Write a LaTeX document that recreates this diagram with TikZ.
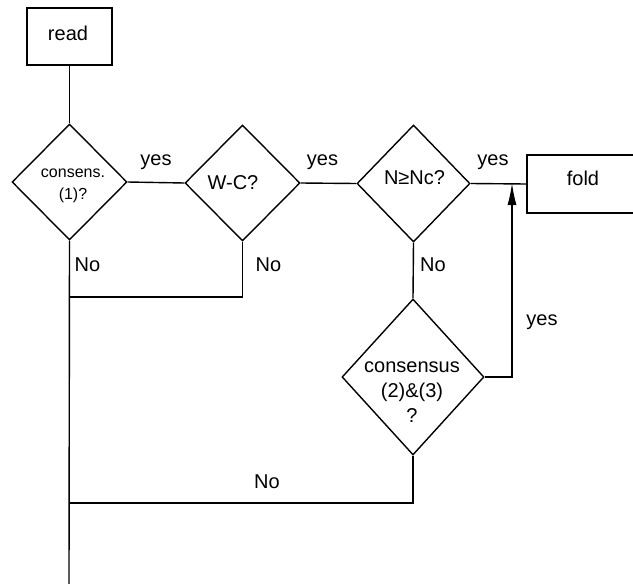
\documentclass[tikz,border=0pt]{standalone}
\usepackage{fontspec}
\setmainfont{Liberation Sans}
\usetikzlibrary{shapes.geometric,arrows.meta}

\begin{document}
\begin{tikzpicture}[x=1pt,y=-1pt,
  line width=1.4pt,
  every node/.style={font=\fontsize{20}{24}\selectfont},
  procbox/.style={draw, rectangle, inner sep=0pt},
  decision/.style={draw, diamond, inner sep=0pt, line join=miter},
  lbl/.style={inner sep=0pt},
  flow/.style={line join=miter}
]
\useasboundingbox (0,0) rectangle (633,584);

% process boxes (the fold box runs on past the right edge)
\node[procbox, minimum width=85pt, minimum height=57pt] (read) at (69.5,36.5) {};
\node[lbl] (readtxt) at (68,33) {read};
\node[procbox, minimum width=160pt, minimum height=58pt] (fold) at (607,184) {};
\node[lbl] (foldtxt) at (583,178) {fold};

% decisions
\node[decision, minimum width=115pt, minimum height=116pt] (d1) at (69.5,182) {};
\node[lbl, align=center, font=\fontsize{16}{22}\selectfont] (d1txt) at (73,186) {consens.\\(1)?};
\node[decision, minimum width=115pt, minimum height=116pt] (d2) at (242.5,183) {};
\node[lbl] (d2txt) at (233,183) {W-C?};
\node[decision, minimum width=113pt, minimum height=117pt] (d3) at (413.5,183.5) {};
\node[lbl] (d3txt) at (414.5,178) {N≥Nc?};
\node[decision, minimum width=142pt, minimum height=156pt] (d4) at (413,377) {};
\node[lbl, align=center, font=\fontsize{20}{25}\selectfont] (d4txt) at (412,392) {consensus\\(2)\&(3)\\?};

% junction points
\coordinate (j1) at (69,297);
\coordinate (j2) at (69,503);
\coordinate (bottom) at (69,584);
\coordinate (up) at (512,183);

% connectors
\draw[flow] (read.south) -- (d1.north);
\draw[flow] (d1.east) -- (d2.west);
\draw[flow] (d2.east) -- (d3.west);
\draw[flow] (d3.east) -- (fold.west);
\draw[flow] (d1.south) -- (bottom);
\draw[flow] (d2.south) |- (j1);
\draw[flow] (d3.south) -- (d4.north);
\draw[flow] (d4.south) |- (j2);
\draw[flow, -{Latex[length=22pt,width=9pt]}] (d4.east) -| (up);

% branch labels
\node[lbl] (y1) at (156,162) {yes};
\node[lbl] (y2) at (322.5,162) {yes};
\node[lbl] (y3) at (493,162) {yes};
\node[lbl] (y4) at (542,322) {yes};
\node[lbl] (n1) at (87.5,265) {No};
\node[lbl] (n2) at (268.5,265) {No};
\node[lbl] (n3) at (433,265) {No};
\node[lbl] (n4) at (267,482) {No};
\end{tikzpicture}
\end{document}
